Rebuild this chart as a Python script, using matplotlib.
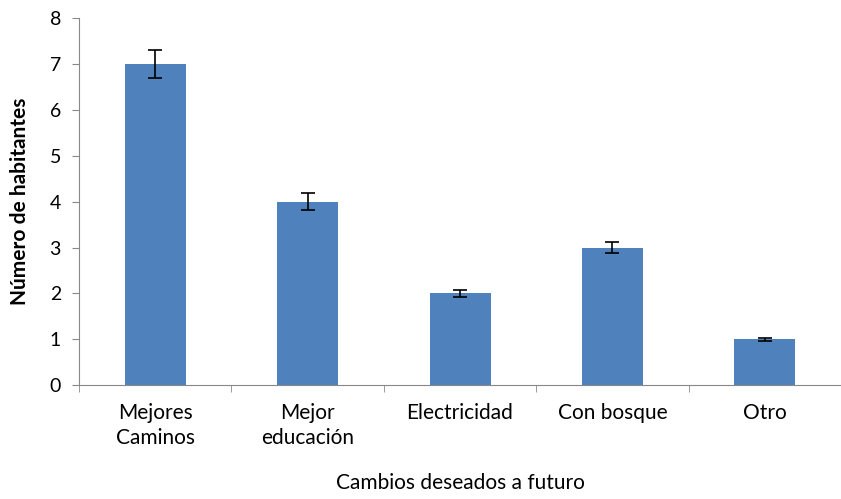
import matplotlib.pyplot as plt
import numpy as np

plt.rcParams['font.family'] = ['Lato', 'DejaVu Sans']

categorias = ['Mejores\nCaminos', 'Mejor\neducación', 'Electricidad', 'Con bosque', 'Otro']
habitantes = [7, 4, 2, 3, 1]
errores = [0.3, 0.18, 0.07, 0.12, 0.03]

fig = plt.figure(figsize=(8.41, 4.99), dpi=100)
ax = fig.add_axes([0.094, 0.228, 0.906, 0.736])

x = np.arange(len(categorias))
ax.bar(x, habitantes, width=0.4, color='#4F81BD', yerr=errores,
       error_kw=dict(ecolor='black', elinewidth=1.2, capsize=5, capthick=1.2))

ax.set_xlim(-0.5, len(categorias) - 0.5)
ax.set_ylim(0, 8)
ax.set_yticks(range(9))
ax.set_xticks(x)
ax.set_xticklabels(categorias, fontsize=15, linespacing=1.3)
ax.set_xticks(np.arange(-0.5, len(categorias)), minor=True)
ax.tick_params(axis='x', which='major', length=0, pad=13)
ax.tick_params(axis='x', which='minor', length=5, color='#888888')
ax.tick_params(axis='y', length=5, color='#888888', labelsize=14, pad=8)

for s in ['top', 'right']:
    ax.spines[s].set_visible(False)
for s in ['left', 'bottom']:
    ax.spines[s].set_color('#888888')

ax.set_ylabel('Número de habitantes', fontsize=15, fontweight='bold', labelpad=14)
ax.set_xlabel('Cambios deseados a futuro', fontsize=15, labelpad=18)

fig.savefig('out.png', dpi=100)
